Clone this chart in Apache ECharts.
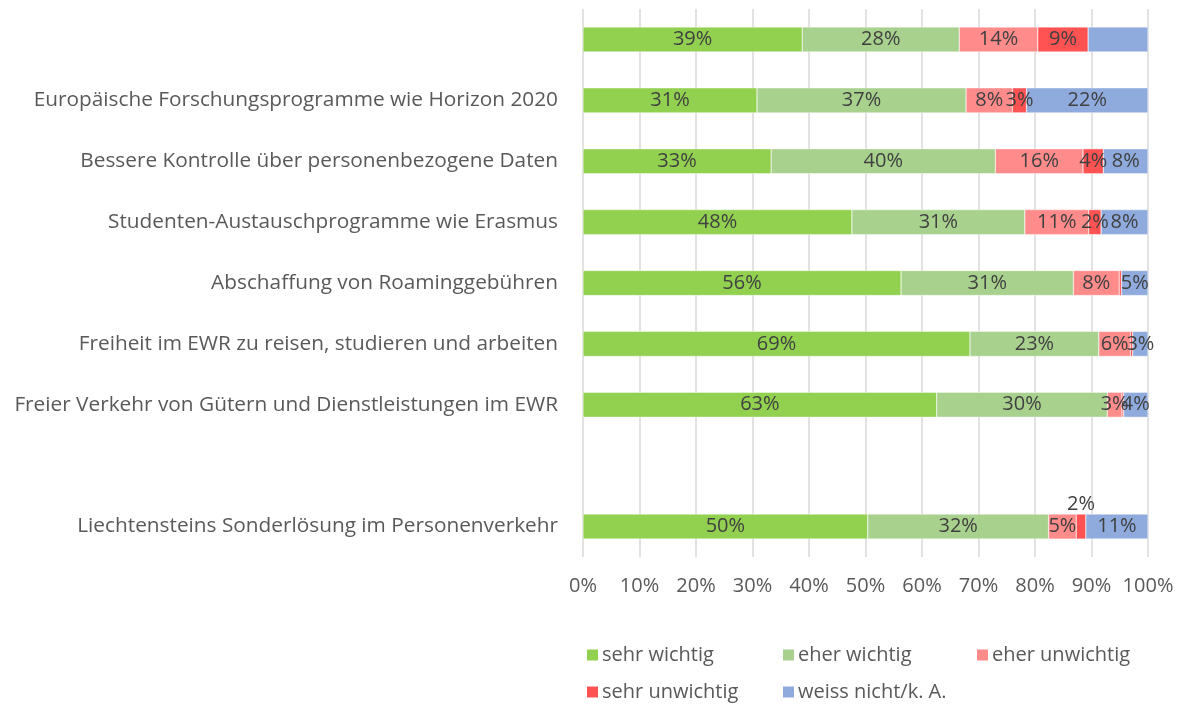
<!DOCTYPE html>
<html>
<head>
<meta charset="utf-8">
<script src="https://cdn.jsdelivr.net/npm/echarts@6/dist/echarts.min.js"></script>
<style>
html, body { margin: 0; padding: 0; background: #fff; }
#main-canvas { width: 1183px; height: 706px; }
</style>
</head>
<body>
<div id="main-canvas"></div>
<script>
// Kategorien von oben nach unten (leere Zeilen wie im Original)
var categories = [
    ' ',
    'Europäische Forschungsprogramme wie Horizon 2020',
    'Bessere Kontrolle über personenbezogene Daten',
    'Studenten-Austauschprogramme wie Erasmus',
    'Abschaffung von Roaminggebühren',
    'Freiheit im EWR zu reisen, studieren und arbeiten',
    'Freier Verkehr von Gütern und Dienstleistungen im EWR',
    '  ',
    'Liechtensteins Sonderlösung im Personenverkehr'
];

var sehrWichtig    = [38.8, 30.8, 33.3, 47.6, 56.3, 68.5, 62.6, null, 50.4];
var eherWichtig    = [27.8, 37.0, 39.7, 30.6, 30.5, 22.8, 30.2, null, 32.0];
var eherUnwichtig  = [13.9,  8.2, 15.5, 11.3,  8.1,  5.6,  2.6, null,  4.9];
var sehrUnwichtig  = [ 8.9,  2.5,  3.6,  2.2,  0.4,  0.4,  0.3, null,  1.7];
var weissNicht     = [10.6, 21.5,  7.9,  8.3,  4.7,  2.7,  4.3, null, 11.0];

var xTicks = [0, 10, 20, 30, 40, 50, 60, 70, 80, 90, 100];

var seriesNames = ['sehr wichtig', 'eher wichtig', 'eher unwichtig', 'sehr unwichtig', 'weiss nicht/k. A.'];
var seriesData = [sehrWichtig, eherWichtig, eherUnwichtig, sehrUnwichtig, weissNicht];
var colors = ['#92D050', '#A9D18E', '#FF8B8B', '#FF5252', '#8FAADC'];

var myChart = echarts.init(document.getElementById('main-canvas'));

var textFont = '"Open Sans", "Noto Sans", sans-serif';

function buildItems(values, sIdx)
{
    return values.map(function (v, i) {
        var item = { value: v };
        // Excel-Beschriftung fehlt in der ersten Zeile bei "weiss nicht"
        if (sIdx == 4 && i == 0) {
            item.label = { show: false };
        }
        // kleines Segment der letzten Zeile: Beschriftung oberhalb
        if (sIdx == 3 && i == 8) {
            item.label = { position: 'top', distance: 0 };
        }
        return item;
    });
}

var series = [];
for (var s = 0; s < seriesNames.length; s++)
{
    series.push({
        name: seriesNames[s],
        type: 'bar',
        stack: 'total',
        barWidth: 25,
        data: buildItems(seriesData[s], s),
        itemStyle: { color: colors[s], borderColor: '#ffffff', borderWidth: 0.4 },
        label: {
            show: true,
            position: 'inside',
            color: '#404040',
            fontFamily: textFont,
            fontSize: 20,
            formatter: function (p) {
                if (p.value == null || p.value < 1) return '';
                return Math.round(p.value) + '%';
            }
        },
        emphasis: { disabled: true }
    });
}

// Legende im Raster wie im Original
var legendPos = [
    [585, 645], [781, 645], [975, 645],
    [585, 682], [781, 682]
];
var legends = seriesNames.map(function (n, i) {
    return {
        data: [n],
        left: legendPos[i][0],
        top: legendPos[i][1],
        padding: 0,
        itemWidth: 13,
        itemHeight: 13,
        itemGap: 6,
        icon: 'rect',
        selectedMode: false,
        textStyle: { color: '#595959', fontFamily: textFont, fontSize: 20, padding: [0, 0, 0, -2] }
    };
});

var option = {
    animation: false,
    color: colors,
    legend: legends,
    grid: { left: 583, right: 35, top: 9, bottom: 149, containLabel: false },
    xAxis: {
        type: 'value',
        min: 0,
        max: 100,
        interval: 10,
        axisLine: { show: false },
        axisTick: { show: false },
        splitLine: { show: true, lineStyle: { color: '#D9D9D9', width: 1.5 } },
        axisLabel: {
            color: '#595959',
            fontFamily: textFont,
            fontSize: 20,
            margin: 19,
            formatter: function (v) {
                return xTicks.indexOf(v) >= 0 ? v + '%' : '';
            }
        }
    },
    yAxis: {
        type: 'category',
        inverse: true,
        data: categories,
        axisLine: { show: false },
        axisTick: { show: false },
        axisLabel: {
            color: '#595959',
            fontFamily: textFont,
            fontSize: 20.8,
            margin: 25
        }
    },
    series: series
};

myChart.setOption(option);
</script>
</body>
</html>
